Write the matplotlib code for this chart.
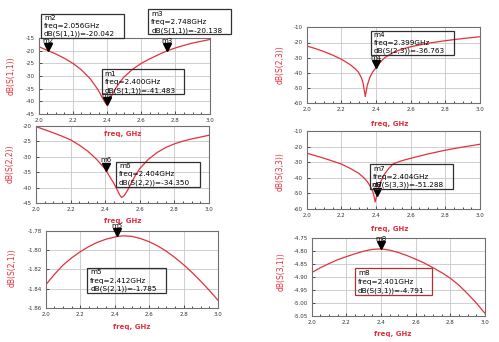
import matplotlib
matplotlib.use("Agg")
import matplotlib.pyplot as plt
import matplotlib.transforms as mtransforms
from matplotlib.patches import Rectangle
from matplotlib.ticker import MultipleLocator

# ---------------- data ----------------
f11 = [2.00, 2.056, 2.10, 2.15, 2.20, 2.25, 2.30, 2.33, 2.35, 2.37, 2.39, 2.40, 2.41, 2.43, 2.45, 2.475, 2.50, 2.55, 2.60, 2.65, 2.70, 2.748, 2.80, 2.85, 2.90, 2.95, 3.00]
s11 = [-18.4, -20.04, -21.3, -23.0, -25.0, -27.6, -31.0, -33.8, -35.8, -38.3, -40.6, -41.48, -40.2, -37.3, -34.9, -32.4, -30.3, -27.3, -25.0, -23.2, -21.6, -20.14, -18.9, -17.9, -17.0, -16.3, -15.6]

f22 = [2.00, 2.05, 2.10, 2.15, 2.20, 2.25, 2.30, 2.35, 2.40, 2.404, 2.43, 2.45, 2.47, 2.485, 2.495, 2.51, 2.53, 2.55, 2.575, 2.60, 2.65, 2.70, 2.75, 2.80, 2.85, 2.90, 2.95, 3.00]
s22 = [-20.2, -21.2, -22.2, -23.3, -24.5, -26.2, -28.2, -30.8, -34.0, -34.35, -36.8, -38.6, -40.8, -42.5, -43.2, -42.6, -40.8, -38.6, -36.0, -33.8, -30.8, -28.6, -27.0, -25.8, -24.9, -24.2, -23.6, -23.0]

f21 = [2.00, 2.05, 2.10, 2.15, 2.20, 2.25, 2.30, 2.35, 2.40, 2.412, 2.45, 2.50, 2.55, 2.60, 2.65, 2.70, 2.75, 2.80, 2.85, 2.90, 2.95, 3.00]
s21 = [-1.836, -1.8252, -1.8155, -1.8080, -1.8016, -1.7962, -1.7918, -1.7885, -1.7863, -1.7857, -1.7850, -1.7856, -1.7878, -1.7911, -1.7955, -1.8010, -1.8076, -1.8150, -1.8232, -1.8322, -1.8418, -1.8520]

f23 = [2.00, 2.05, 2.10, 2.15, 2.20, 2.25, 2.28, 2.30, 2.315, 2.325, 2.338, 2.35, 2.365, 2.38, 2.399, 2.42, 2.45, 2.50, 2.55, 2.60, 2.70, 2.80, 2.90, 3.00]
s23 = [-22.3, -24.0, -26.0, -28.3, -31.0, -34.5, -37.3, -39.8, -43.0, -46.5, -55.5, -48.0, -42.8, -39.5, -36.76, -33.5, -30.0, -26.5, -24.4, -22.8, -20.5, -18.8, -17.4, -16.2]

f33 = [2.00, 2.05, 2.10, 2.15, 2.20, 2.25, 2.30, 2.33, 2.35, 2.37, 2.385, 2.395, 2.404, 2.415, 2.43, 2.45, 2.475, 2.50, 2.55, 2.60, 2.70, 2.80, 2.90, 3.00]
s33 = [-24.2, -25.8, -27.5, -29.3, -31.2, -33.9, -37.1, -40.0, -42.5, -46.0, -50.0, -55.5, -51.29, -46.5, -41.8, -37.5, -33.8, -31.0, -29.0, -27.5, -24.7, -22.3, -20.3, -18.5]

f31 = [2.00, 2.05, 2.10, 2.15, 2.20, 2.25, 2.30, 2.35, 2.401, 2.45, 2.50, 2.55, 2.60, 2.65, 2.70, 2.75, 2.80, 2.85, 2.90, 2.95, 3.00]
s31 = [-4.883, -4.864, -4.848, -4.833, -4.821, -4.810, -4.800, -4.793, -4.791, -4.796, -4.805, -4.817, -4.831, -4.846, -4.864, -4.883, -4.905, -4.932, -4.965, -5.001, -5.041]

# markers: name, freq, value
mk11 = [("m2", 2.056, -20.042), ("m3", 2.748, -20.138), ("m1", 2.400, -41.483)]
mk22 = [("m6", 2.404, -34.350)]
mk21 = [("m5", 2.412, -1.785)]
mk23 = [("m4", 2.399, -36.763)]
mk33 = [("m7", 2.404, -51.288)]
mk31 = [("m8", 2.401, -4.791)]

ylabels = ["dB(S(1,1))", "dB(S(2,2))", "dB(S(2,1))", "dB(S(2,3))", "dB(S(3,3))", "dB(S(3,1))"]
box_texts = {
    "m2": ["m2", "freq=2.056GHz", "dB(S(1,1))=-20.042"],
    "m3": ["m3", "freq=2.748GHz", "dB(S(1,1))=-20.138"],
    "m1": ["m1", "freq=2.400GHz", "dB(S(1,1))=-41.483"],
    "m6": ["m6", "freq=2.404GHz", "dB(S(2,2))=-34.350"],
    "m5": ["m5", "freq=2.412GHz", "dB(S(2,1))=-1.785"],
    "m4": ["m4", "freq=2.399GHz", "dB(S(2,3))=-36.763"],
    "m7": ["m7", "freq=2.404GHz", "dB(S(3,3))=-51.288"],
    "m8": ["m8", "freq=2.401GHz", "dB(S(3,1))=-4.791"],
}

# ---------------- figure ----------------
W, H = 499, 342
fig = plt.figure(figsize=(W / 100, H / 100), dpi=100)
fig.patch.set_facecolor("white")
RED = "#e3303c"


def px_axes(x0, y0, x1, y1):
    return fig.add_axes([x0 / W, 1 - y1 / H, (x1 - x0) / W, (y1 - y0) / H])


def fx(x):
    return x / W


def fy(y):
    return 1 - y / H


panels = [
    # (axes px box, freq, values, markers, ylim, ystep, yfmt, ylabel pos, xlabel pos)
    ((38.7, 38, 209.7, 114), f11, s11, mk11, (-45, -15), 5, "{:.0f}", (11, 76), (123, 134)),
    ((36, 126, 209, 203), f22, s22, mk22, (-45, -20), 5, "{:.0f}", (10, 164), (123, 221)),
    ((45.7, 231, 218, 308), f21, s21, mk21, (-1.86, -1.78), 0.02, "{:.2f}", (12, 268), (132, 327)),
    ((306.7, 27.3, 480, 103.3), f23, s23, mk23, (-60, -10), 10, "{:.0f}", (280, 65), (390, 124)),
    ((306.7, 131, 480, 209), f33, s33, mk33, (-60, -10), 10, "{:.0f}", (280, 172), (390, 229)),
    ((311.7, 238.3, 485, 315.7), f31, s31, mk31, (-5.05, -4.75), 0.05, "{:.2f}", (281, 272), (393, 334)),
]

for i, (box, fr, vals, mks, ylim, ystep, yfmt, ylp, xlp) in enumerate(panels):
    ax = px_axes(*box)
    ax.plot(fr, vals, color=RED, lw=0.9)
    ax.set_xlim(2.0, 3.0)
    ax.set_ylim(*ylim)
    ax.xaxis.set_minor_locator(MultipleLocator(0.05))
    ax.set_xticks([2.0, 2.2, 2.4, 2.6, 2.8, 3.0])
    ax.set_xticklabels(["2.0", "2.2", "2.4", "2.6", "2.8", "3.0"])
    lo, hi = ylim
    n = int(round((hi - lo) / ystep))
    yt = [lo + k * ystep for k in range(n + 1)]
    ax.set_yticks(yt)
    ax.set_yticklabels([yfmt.format(v) for v in yt])
    ax.tick_params(axis="both", which="major", labelsize=4, length=2, width=0.6,
                   direction="in", pad=3, colors="#333333")
    ax.tick_params(axis="both", which="minor", length=1.2, width=0.5, direction="in")
    ax.grid(True, which="major", color="#c8c8c8", lw=0.6)
    for sp in ax.spines.values():
        sp.set_color("#707070")
        sp.set_linewidth(0.8)
    ax.set_axisbelow(True)

    trans = mtransforms.offset_copy(ax.transData, fig=fig, x=0, y=2.6, units="points")
    for name, mf, mv in mks:
        ax.plot([mf], [mv], marker="v", ms=5.5, color="black", transform=trans,
                clip_on=False, zorder=5)
        ax.annotate(name, (mf, mv), xytext=(0, 5.0), textcoords="offset points",
                    ha="center", va="bottom", fontsize=5, color="black",
                    annotation_clip=False, zorder=6)

    fig.text(fx(ylp[0]), fy(ylp[1]), ylabels[i], rotation=90, color=RED,
             fontsize=5.5, ha="center", va="center")
    fig.text(fx(xlp[0]), fy(xlp[1]), "freq, GHz", color=RED, fontsize=5,
             ha="center", va="center", fontweight="bold")

# marker readout boxes (x0, y0, x1, y1) in pixels
boxes = {
    "m2": (41, 14, 124, 37.7),
    "m3": (148.3, 9.3, 230.7, 34.3),
    "m1": (101.7, 69.3, 184, 94.3),
    "m6": (116, 161.7, 200, 186.7),
    "m5": (87.3, 267.7, 165.7, 292.7),
    "m4": (370.7, 30.7, 454, 55),
    "m7": (370, 164.3, 452.7, 189),
    "m8": (355, 267.7, 431.7, 295),
}
for name, (x0, y0, x1, y1) in boxes.items():
    ec = "#b03030" if name == "m8" else "#303030"
    rect = Rectangle((fx(x0), fy(y1)), fx(x1) - fx(x0), fy(y0) - fy(y1),
                     transform=fig.transFigure, facecolor="none", edgecolor=ec,
                     lw=0.9, zorder=10)
    fig.patches.append(rect)
    lines = box_texts[name]
    lh = (y1 - y0) / 3.0
    for k, t in enumerate(lines):
        fig.text(fx(x0 + 3), fy(y0 + lh * (k + 0.5) + 0.3), t, fontsize=5.2,
                 ha="left", va="center", color="black", zorder=11)

fig.savefig("out.png", dpi=100, facecolor="white")
